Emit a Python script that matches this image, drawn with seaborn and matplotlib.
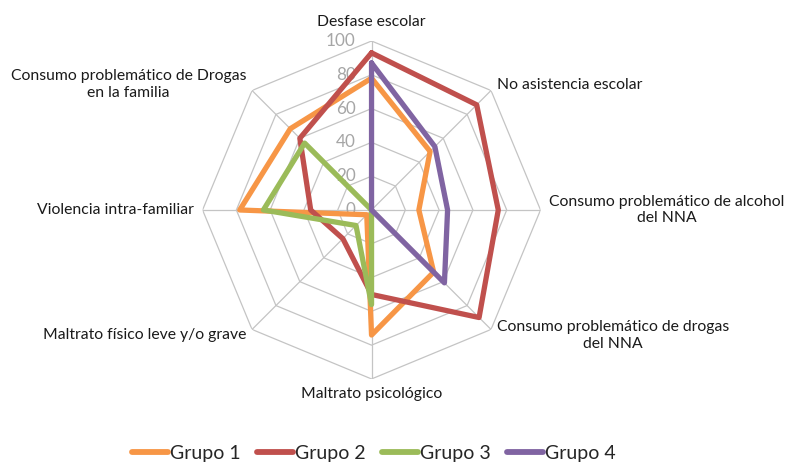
import numpy as np
import pandas as pd
import matplotlib
matplotlib.use("Agg")
import matplotlib.pyplot as plt
import matplotlib.transforms as mtransforms
import seaborn as sns

categories = [
    "Desfase escolar",
    "No asistencia escolar",
    "Consumo problemático de alcohol\ndel NNA",
    "Consumo problemático de drogas\ndel NNA",
    "Maltrato psicológico",
    "Maltrato físico leve y/o grave",
    "Violencia intra-familiar",
    "Consumo problemático de Drogas\nen la familia",
]
grupo1 = [78, 49, 28, 52, 74, 4, 78, 68]
grupo2 = [93, 88, 75, 90, 50, 24, 36, 60]
grupo3 = [0, 0, 0, 0, 56, 13, 64, 56]
grupo4 = [87, 53, 45, 61, 0, 0, 0, 0]
series_names = ["Grupo 1", "Grupo 2", "Grupo 3", "Grupo 4"]
tick_values = [0, 20, 40, 60, 80, 100]
colors = ["#F79646", "#C0504D", "#9BBB59", "#8064A2"]

sns.set_theme(style="white")
plt.rcParams["font.family"] = ["Lato", "DejaVu Sans"]

n = len(categories)
angles = [2 * np.pi * i / n for i in range(n)]
angles_closed = angles + [2 * np.pi]

rows = []
for name, vals in zip(series_names, [grupo1, grupo2, grupo3, grupo4]):
    vv = list(vals) + [vals[0]]
    for i, (t, v) in enumerate(zip(angles_closed, vv)):
        rows.append({"grupo": name, "theta": t, "value": v, "order": i})
df = pd.DataFrame(rows)

fig = plt.figure(figsize=(7.9, 4.62), dpi=100)
ax = fig.add_axes([0.2564, 0.1797, 0.4278, 0.7316], projection="polar")
ax.set_theta_zero_location("N")
ax.set_theta_direction(-1)

# octagonal grid
grid_color = "#C4C4C4"
for lvl in tick_values[1:]:
    ax.plot(angles_closed, [lvl] * (n + 1), color=grid_color, lw=0.9, zorder=1)
for t in angles:
    ax.plot([t, t], [0, 100], color=grid_color, lw=0.9, zorder=1)

sns.lineplot(data=df, x="theta", y="value", hue="grupo", palette=colors,
             sort=False, estimator=None, lw=3.8, ax=ax, zorder=3)

ax.set_ylim(0, 100)
ax.set_xticks([])
ax.set_yticks([])
ax.grid(False)
ax.spines["polar"].set_visible(False)
ax.set_xlabel("")
ax.set_ylabel("")

# radial tick labels
off = mtransforms.offset_copy(ax.transData, fig=fig, x=-16, y=0, units="dots")
for v in tick_values:
    ax.text(0, v, str(v), transform=off, ha="right", va="center",
            fontsize=12.3, color="#A6A6A6", zorder=2)

# category labels
align = [
    ("center", "bottom"), ("left", "center"), ("left", "center"), ("left", "center"),
    ("center", "top"), ("right", "center"), ("right", "center"), ("right", "center"),
]
for t, lab, (ha, va) in zip(angles, categories, align):
    r = 107 if va in ("bottom",) else 105
    ax.text(t, r, lab, ha=ha, va=va, multialignment="center",
            fontsize=11.3, color="#1A1A1A", linespacing=1.2)

handles, labels = ax.get_legend_handles_labels()
if ax.get_legend() is not None:
    ax.get_legend().remove()
leg = fig.legend(handles, labels, loc="center", bbox_to_anchor=(374 / 790, 1 - 453 / 462),
                 ncol=4, frameon=False, handlelength=1.85, handletextpad=0.1,
                 columnspacing=0.85, fontsize=14)
for h in leg.get_lines():
    h.set_linewidth(4.2)
    h.set_solid_capstyle("round")

fig.savefig("out.png", dpi=100, facecolor="white")
